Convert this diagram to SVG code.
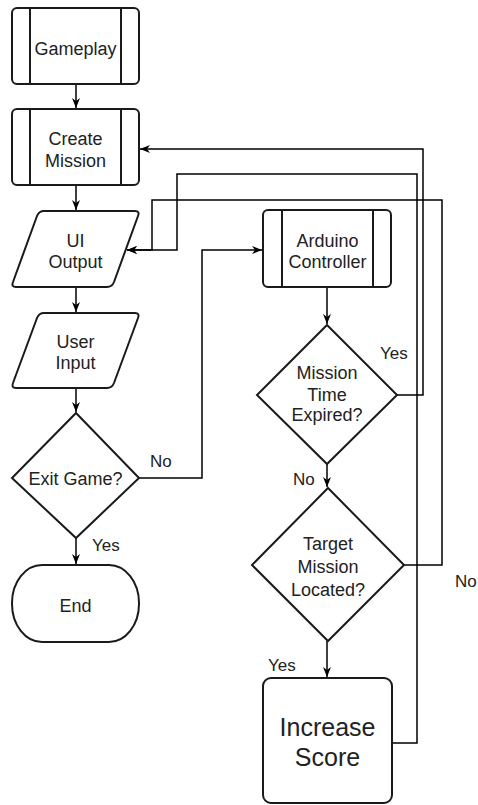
<svg xmlns="http://www.w3.org/2000/svg" width="478" height="805" viewBox="0 0 478 805">
<defs>
<style>
.s{fill:#fff;stroke:#1a1a1a;stroke-width:2}
.i{fill:none;stroke:#1a1a1a;stroke-width:2}
.c{fill:none;stroke:#000;stroke-width:1.5}
.t{font-family:"Liberation Sans",Arial,sans-serif;font-size:18px;fill:#222;text-anchor:middle}
.l{font-family:"Liberation Sans",Arial,sans-serif;font-size:17px;fill:#222}
.big{font-size:25px}
</style>
<marker id="a" markerWidth="10" markerHeight="8" refX="10" refY="4" orient="auto" markerUnits="userSpaceOnUse">
<path d="M0,0 L10,4 L0,8 L3,4 Z" fill="#000"/>
</marker>
</defs>
<rect width="478" height="805" fill="#fff"/>
<g id="connectors">
<path class="c" d="M76,84 V108" marker-end="url(#a)"/>
<path class="c" d="M76,185 V210" marker-end="url(#a)"/>
<path class="c" d="M76,287 V312" marker-end="url(#a)"/>
<path class="c" d="M76,388 V412" marker-end="url(#a)"/>
<path class="c" d="M76,538 V564" marker-end="url(#a)"/>
<path class="c" d="M139,478 H202 V250 H262" marker-end="url(#a)"/>
<path class="c" d="M327,287 V324" marker-end="url(#a)"/>
<path class="c" d="M327,464 V487" marker-end="url(#a)"/>
<path class="c" d="M327,641 V677" marker-end="url(#a)"/>
<path class="c" d="M397,395 H423 V149 H140" marker-end="url(#a)"/>
<path class="c" d="M392,743 H417 V174 H177 V250 H127" marker-end="url(#a)"/>
<path class="c" d="M404,565 H442 V200 H152 V250 H127" marker-end="url(#a)"/>
</g>
<g id="gameplay">
<rect class="s" x="12" y="8" width="127" height="76" rx="5"/>
<path class="i" d="M30,8 V84 M121,8 V84"/>
<text class="t" x="75.5" y="55">Gameplay</text>
</g>
<g id="create-mission">
<rect class="s" x="12" y="109" width="127" height="76" rx="5"/>
<path class="i" d="M30,109 V185 M121,109 V185"/>
<text class="t" x="75.5" y="145">Create</text>
<text class="t" x="75.5" y="167">Mission</text>
</g>
<g id="ui-output">
<path class="s" d="M44,211 H135 Q140,211 138,216 L114,282 Q112,287 107,287 H16 Q11,287 13,282 L37,216 Q39,211 44,211 Z"/>
<text class="t" x="75.5" y="247">UI</text>
<text class="t" x="75.5" y="268">Output</text>
</g>
<g id="user-input">
<path class="s" d="M44,313 H135 Q140,313 138,318 L114,383 Q112,388 107,388 H16 Q11,388 13,383 L37,318 Q39,313 44,313 Z"/>
<text class="t" x="75.5" y="348">User</text>
<text class="t" x="75.5" y="369">Input</text>
</g>
<g id="exit-game">
<path class="s" d="M76,413 L139,478 L76,538 L12,478 Z"/>
<text class="t" x="75.5" y="485">Exit Game?</text>
</g>
<g id="end">
<rect class="s" x="12" y="565" width="127" height="77" rx="30" ry="38"/>
<text class="t" x="75.5" y="612">End</text>
</g>
<g id="arduino-controller">
<rect class="s" x="263" y="210" width="128" height="77" rx="5"/>
<path class="i" d="M282,210 V287 M373,210 V287"/>
<text class="t" x="327.5" y="247">Arduino</text>
<text class="t" x="327.5" y="268">Controller</text>
</g>
<g id="mission-time-expired">
<path class="s" d="M327,325 L397,395 L327,464 L257,395 Z"/>
<text class="t" x="327" y="379">Mission</text>
<text class="t" x="327" y="401">Time</text>
<text class="t" x="327" y="421">Expired?</text>
</g>
<g id="target-mission-located">
<path class="s" d="M328,488 L404,565 L328,641 L252,565 Z"/>
<text class="t" x="328" y="550">Target</text>
<text class="t" x="328" y="573">Mission</text>
<text class="t" x="328" y="596">Located?</text>
</g>
<g id="increase-score">
<rect class="s" x="263" y="678" width="129" height="125" rx="8"/>
<text class="t big" x="327.5" y="736">Increase</text>
<text class="t big" x="327.5" y="766">Score</text>
</g>
<g id="labels">
<text class="l" x="150" y="467">No</text>
<text class="l" x="92" y="551">Yes</text>
<text class="l" x="380" y="359">Yes</text>
<text class="l" x="293" y="485">No</text>
<text class="l" x="455" y="587">No</text>
<text class="l" x="268" y="671">Yes</text>
</g>
</svg>
